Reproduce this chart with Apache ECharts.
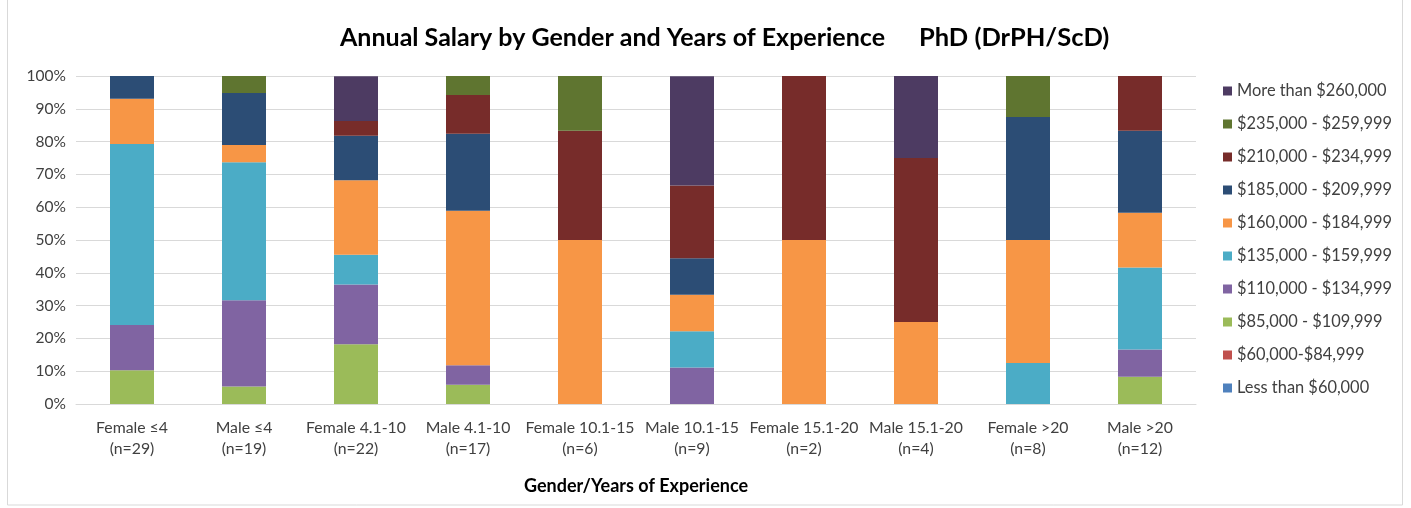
<!DOCTYPE html>
<html>
<head>
<meta charset="utf-8">
<script src="https://cdn.jsdelivr.net/npm/echarts@6/dist/echarts.min.js"></script>
<style>
  html, body { margin: 0; padding: 0; background: #fff; }
  #chart { width: 1411px; height: 508px; }
</style>
</head>
<body>
<div id="chart"></div>
<script>
// categories (x axis)
const categories = [
  'Female ≤4\n(n=29)', 'Male ≤4\n(n=19)', 'Female 4.1-10\n(n=22)', 'Male 4.1-10\n(n=17)',
  'Female 10.1-15\n(n=6)', 'Male 10.1-15\n(n=9)', 'Female 15.1-20\n(n=2)', 'Male 15.1-20\n(n=4)',
  'Female >20\n(n=8)', 'Male >20\n(n=12)'
];

// salary bands, bottom of stack first
const bands = [
  'Less than $60,000', '$60,000-$84,999', '$85,000 - $109,999', '$110,000 - $134,999',
  '$135,000 - $159,999', '$160,000 - $184,999', '$185,000 - $209,999', '$210,000 - $234,999',
  '$235,000 - $259,999', 'More than $260,000'
];
const colors = ['#4F81BD', '#C0504D', '#9BBB59', '#8064A2', '#4BACC6',
                '#F79646', '#2C4D75', '#772C2A', '#5F7530', '#4D3B62'];

// share of respondents (%) per band, one value per category
const less60   = [0, 0, 0, 0, 0, 0, 0, 0, 0, 0];
const s60_85   = [0, 0, 0, 0, 0, 0, 0, 0, 0, 0];
const s85_110  = [10.3, 5.3, 18.2, 5.9, 0, 0, 0, 0, 0, 8.3];
const s110_135 = [13.8, 26.3, 18.2, 5.9, 0, 11.1, 0, 0, 0, 8.3];
const s135_160 = [55.2, 42.1, 9.1, 0, 0, 11.1, 0, 0, 12.5, 25.0];
const s160_185 = [13.8, 5.3, 22.7, 47.1, 50.0, 11.1, 50.0, 25.0, 37.5, 16.7];
const s185_210 = [6.9, 15.8, 13.6, 23.5, 0, 11.1, 0, 0, 37.5, 25.0];
const s210_235 = [0, 0, 4.5, 11.8, 33.3, 22.2, 50.0, 50.0, 0, 16.7];
const s235_260 = [0, 5.3, 0, 5.9, 16.7, 0, 0, 0, 12.5, 0];
const more260  = [0, 0, 13.6, 0, 0, 33.3, 0, 25.0, 0, 0];

const values = [less60, s60_85, s85_110, s110_135, s135_160, s160_185, s185_210, s210_235, s235_260, more260];

const font = 'Lato, "Open Sans", sans-serif';
const chart = echarts.init(document.getElementById('chart'));

chart.setOption({
  animation: false,
  textStyle: { fontFamily: font },
  title: [
    { text: 'Annual Salary by Gender and Years of Experience', left: 335, top: 20,
      textStyle: { fontSize: 25, fontWeight: 'bold', color: '#000', fontFamily: font } },
    { text: 'PhD (DrPH/ScD)', left: 914, top: 20,
      textStyle: { fontSize: 25.5, fontWeight: 'bold', color: '#000', fontFamily: font } }
  ],
  graphic: [{
    type: 'rect', shape: { x: 7.5, y: -1, width: 1395, height: 506 },
    style: { fill: 'none', stroke: '#d9d9d9', lineWidth: 1 }, silent: true
  }],
  legend: {
    orient: 'vertical', left: 1218, top: 78,
    itemWidth: 9, itemHeight: 9, itemGap: 17,
    icon: 'rect',
    data: bands.slice().reverse(),
    textStyle: { fontSize: 16.4, lineHeight: 16, color: '#404040', fontFamily: font }
  },
  grid: { left: 76, right: 215, top: 76, bottom: 104 },
  xAxis: {
    type: 'category', data: categories,
    name: 'Gender/Years of Experience', nameLocation: 'middle', nameGap: 73,
    nameTextStyle: { fontSize: 18, fontWeight: 'bold', color: '#000', fontFamily: font },
    axisLine: { lineStyle: { color: '#d9d9d9' } },
    axisTick: { show: false },
    axisLabel: { color: '#404040', fontSize: 15.8, lineHeight: 21, margin: 13, interval: 0, fontFamily: font }
  },
  yAxis: {
    type: 'value', min: 0, max: 100, interval: 10,
    axisLabel: { formatter: '{value}%', color: '#404040', fontSize: 15.5, margin: 10, fontFamily: font },
    splitLine: { lineStyle: { color: '#d9d9d9' } },
    axisLine: { show: false }, axisTick: { show: false }
  },
  series: bands.map((b, i) => ({
    name: b, type: 'bar', stack: 'total', barWidth: 44,
    itemStyle: { color: colors[i] },
    data: values[i]
  }))
});
</script>
</body>
</html>
